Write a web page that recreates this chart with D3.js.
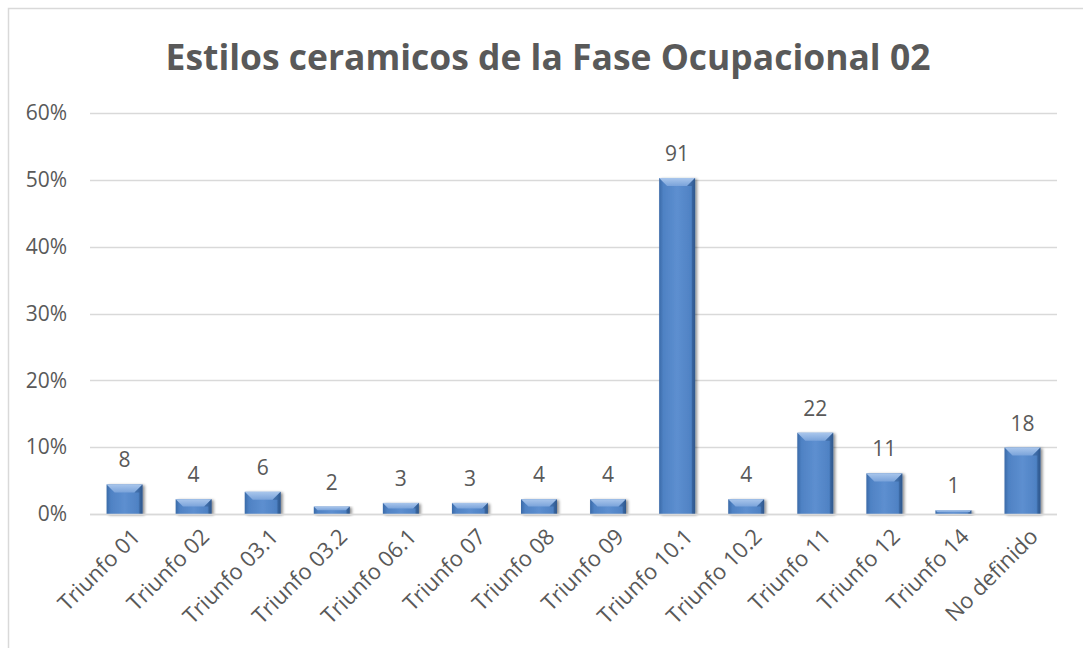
<!DOCTYPE html>
<html>
<head>
<meta charset="utf-8">
<script src="https://cdn.jsdelivr.net/npm/d3@7"></script>
<style>
  body { margin: 0; background: #fff; }
  svg text { font-family: "Open Sans", Lato, "Noto Sans", sans-serif; fill: #595959; }
</style>
</head>
<body>
<svg id="chart" width="1083" height="648"></svg>
<script>
var categories = ["Triunfo 01", "Triunfo 02", "Triunfo 03.1", "Triunfo 03.2", "Triunfo 06.1", "Triunfo 07",
    "Triunfo 08", "Triunfo 09", "Triunfo 10.1", "Triunfo 10.2", "Triunfo 11", "Triunfo 12", "Triunfo 14", "No definido"];
var counts = [8, 4, 6, 2, 3, 3, 4, 4, 91, 4, 22, 11, 1, 18];
var yTicks = [0, 0.1, 0.2, 0.3, 0.4, 0.5, 0.6];
var title = "Estilos ceramicos de la Fase Ocupacional 02";

var total = d3.sum(counts);
var data = categories.map(function(c, i) { return {name: c, count: counts[i], share: counts[i] / total}; });

var svg = d3.select("#chart");
var margin = {top: 113, right: 26, bottom: 134, left: 90},
    width = 1083 - margin.left - margin.right,
    height = 648 - margin.top - margin.bottom;

// outer chart border (right / bottom run off the picture)
svg.append("rect")
    .attr("x", 8.5).attr("y", 8.5)
    .attr("width", 1090).attr("height", 660)
    .attr("fill", "none").attr("stroke", "#d9d9d9").attr("stroke-width", 1.5);

var defs = svg.append("defs");
var body = defs.append("linearGradient").attr("id", "barBody").attr("x1", 0).attr("x2", 1).attr("y1", 0).attr("y2", 0);
body.append("stop").attr("offset", "0%").attr("stop-color", "#3a6aa8");
body.append("stop").attr("offset", "12%").attr("stop-color", "#4f82c4");
body.append("stop").attr("offset", "50%").attr("stop-color", "#5d8fd0");
body.append("stop").attr("offset", "88%").attr("stop-color", "#4f82c4");
body.append("stop").attr("offset", "100%").attr("stop-color", "#2f5a92");
var topG = defs.append("linearGradient").attr("id", "barTop").attr("x1", 0).attr("x2", 0).attr("y1", 0).attr("y2", 1);
topG.append("stop").attr("offset", "0%").attr("stop-color", "#a9c6ec");
topG.append("stop").attr("offset", "100%").attr("stop-color", "#7aa3da");
var shadow = defs.append("filter").attr("id", "shadow").attr("x", "-20%").attr("y", "-20%").attr("width", "150%").attr("height", "150%");
shadow.append("feGaussianBlur").attr("in", "SourceAlpha").attr("stdDeviation", 1.5).attr("result", "b");
shadow.append("feOffset").attr("in", "b").attr("dx", 1.5).attr("dy", 1).attr("result", "o");
shadow.append("feComponentTransfer").attr("in", "o").attr("result", "s")
    .append("feFuncA").attr("type", "linear").attr("slope", 0.45);
var merge = shadow.append("feMerge");
merge.append("feMergeNode").attr("in", "s");
merge.append("feMergeNode").attr("in", "SourceGraphic");

var g = svg.append("g").attr("transform", "translate(" + margin.left + "," + margin.top + ")");

var x = d3.scaleBand().domain(categories).range([0, width]).paddingInner(0.48).paddingOuter(0.24);
var y = d3.scaleLinear().domain([0, 0.6]).range([height, 0]);

// gridlines
g.append("g").selectAll("line").data(yTicks).enter().append("line")
    .attr("x1", 0).attr("x2", width)
    .attr("y1", function(d) { return Math.round(y(d)) + 0.5; })
    .attr("y2", function(d) { return Math.round(y(d)) + 0.5; })
    .attr("stroke", "#d9d9d9").attr("stroke-width", 1.3);

// y axis labels
var yAxis = d3.axisLeft(y).tickValues(yTicks).tickFormat(d3.format(".0%")).tickSize(0).tickPadding(23);
var ya = g.append("g").call(yAxis);
ya.select(".domain").remove();
ya.selectAll("text").style("font-size", "21px").attr("fill", "#595959");

// bars
var bars = g.selectAll(".bar").data(data).enter().append("g")
    .attr("class", "bar")
    .attr("transform", function(d) { return "translate(" + x(d.name) + "," + y(d.share) + ")"; })
    .attr("filter", "url(#shadow)");

bars.append("rect")
    .attr("width", x.bandwidth())
    .attr("height", function(d) { return height - y(d.share); })
    .attr("fill", "url(#barBody)");

bars.append("path")
    .attr("d", function(d) {
        var w = x.bandwidth(), h = height - y(d.share);
        var b = Math.min(8, h / 2);
        return "M0,0L" + w + ",0L" + (w - b) + "," + b + "L" + b + "," + b + "Z";
    })
    .attr("fill", "url(#barTop)");

bars.append("path")
    .attr("d", function(d) {
        var w = x.bandwidth(), h = height - y(d.share);
        var b = Math.min(8, h / 2);
        return "M" + w + ",0L" + w + "," + h + "L" + (w - 3) + "," + h + "L" + (w - 3) + "," + b + "L" + (w - b) + "," + b + "Z";
    })
    .attr("fill", "#2c5487").attr("opacity", 0.45);

// value labels
g.selectAll(".val").data(data).enter().append("text")
    .attr("class", "val")
    .attr("x", function(d) { return x(d.name) + x.bandwidth() / 2; })
    .attr("y", function(d) { return y(d.share) - 17; })
    .attr("text-anchor", "middle")
    .style("font-size", "21px")
    .text(function(d) { return d.count; });

// x axis labels
var xAxis = d3.axisBottom(x).tickSize(0).tickPadding(0);
var xa = g.append("g").attr("transform", "translate(0," + height + ")").call(xAxis);
xa.select(".domain").remove();
xa.selectAll("text")
    .attr("fill", "#595959")
    .style("font-size", "22px")
    .attr("text-anchor", "end")
    .attr("y", 0)
    .attr("dy", 0)
    .attr("transform", "translate(17,24) rotate(-45)");

// baseline
g.append("line")
    .attr("x1", 0).attr("x2", width)
    .attr("y1", height + 0.5).attr("y2", height + 0.5)
    .attr("stroke", "#d9d9d9").attr("stroke-width", 1.5);

// title, sized to span the same width as the reference
var t = svg.append("text")
    .attr("x", 548).attr("y", 70)
    .attr("text-anchor", "middle")
    .style("font-weight", "bold")
    .style("font-size", "34px")
    .text(title);
var tw = t.node().getComputedTextLength();
t.style("font-size", (34 * 765 / tw) + "px");
</script>
</body>
</html>
